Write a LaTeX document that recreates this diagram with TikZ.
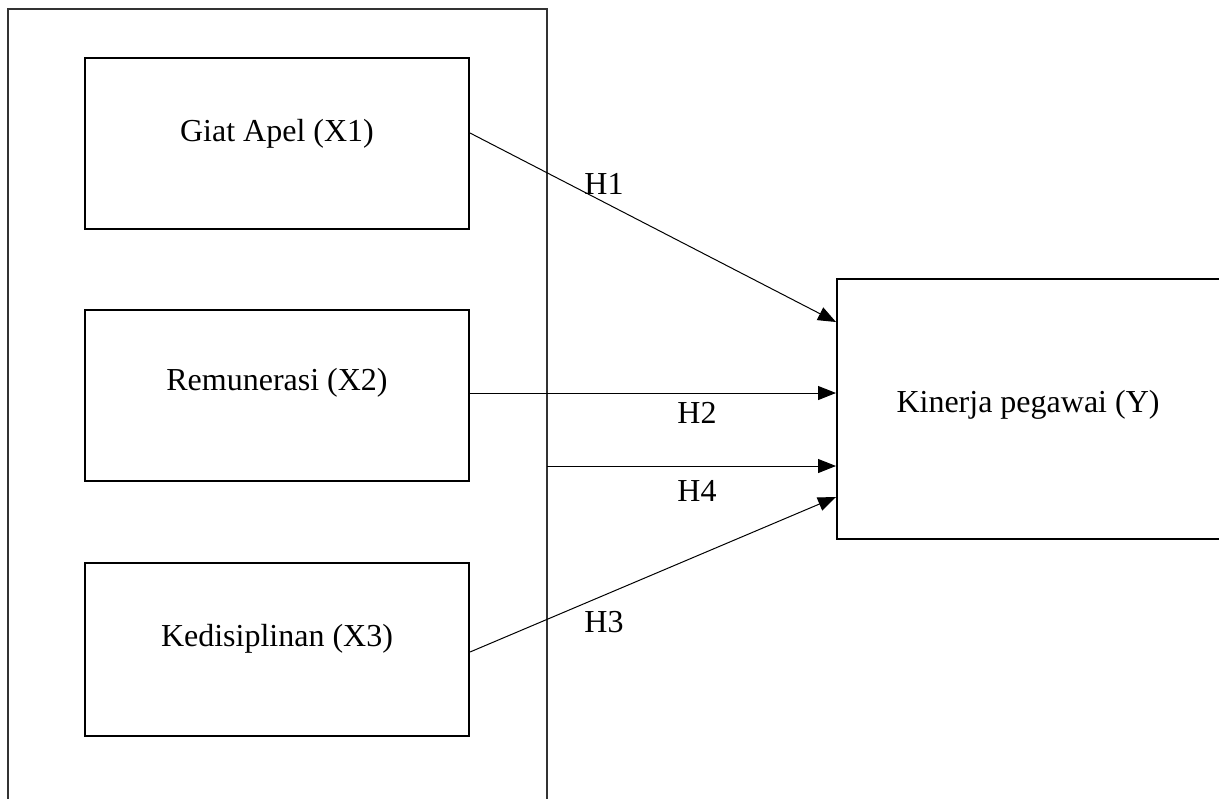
\documentclass[tikz,border=0pt]{standalone}
\usepackage{fontspec}
\setmainfont{Liberation Serif}
\usetikzlibrary{arrows.meta}
\tikzset{
  varbox/.style={draw, line width=1pt, minimum width=192pt, minimum height=85.5pt, inner sep=0pt},
  varlabel/.style={font=\fontsize{16}{19}\selectfont, inner sep=0pt},
  hyp/.style={line width=0.5pt, -{Triangle[length=9pt,width=7pt]}}
}
\begin{document}
\begin{tikzpicture}[x=0.5pt,y=-0.5pt]
        \clip (0,0) rectangle (1219,798);
        % frame around the independent variables
        \draw[line width=0.7pt, black!80] (8,805) -- (8,9) -- (547,9) -- (547,805);
        \coordinate (frameR) at (547,466);
        % independent variables
        \node[varbox] (x1) at (277,143.5) {};
        \node[varbox] (x2) at (277,395) {};
        \node[varbox, minimum height=86.5pt] (x3) at (277,649.5) {};
        \node[varlabel] (x1lab) at (277,134) {Giat Apel (X1)};
        \node[varlabel] (x2lab) at (277,383) {Remunerasi (X2)};
        \node[varlabel] (x3lab) at (277,639) {Kedisiplinan (X3)};
        % dependent variable
        \node[varbox, minimum width=210pt, minimum height=130pt] (y) at (1047,409) {};
        \node[varlabel] (ylab) at (1028,405) {Kinerja pegawai (Y)};
        % hypotheses
        \draw[hyp] ([yshift=5.25pt]x1.east) -- ([yshift=43.5pt]y.west);
        \draw[hyp] ([yshift=1pt]x2.east) -- ([yshift=8pt]y.west);
        \draw[hyp] (frameR) -- (frameR -| y.west);
        \draw[hyp] ([yshift=-1.25pt]x3.east) -- ([yshift=-44pt]y.west);
        \node[varlabel] (h1) at (604,184) {H1};
        \node[varlabel] (h2) at (697,413) {H2};
        \node[varlabel] (h4) at (697,491) {H4};
        \node[varlabel] (h3) at (604,622) {H3};
\end{tikzpicture}
\end{document}
